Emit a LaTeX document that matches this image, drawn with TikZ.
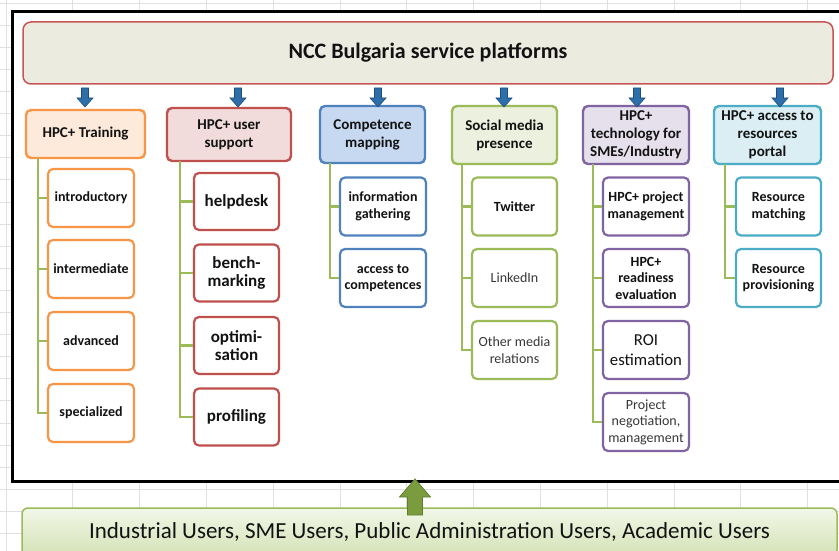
\documentclass[tikz,border=0pt]{standalone}
\usepackage{fontspec}
\setmainfont{Carlito}
\usetikzlibrary{calc}

\definecolor{gridc}{RGB}{224,224,224}
\definecolor{ink}{RGB}{18,18,18}
\definecolor{inkl}{RGB}{55,55,55}
\definecolor{titlefill}{RGB}{236,235,224}
\definecolor{titledraw}{RGB}{200,85,85}
\definecolor{orgd}{RGB}{247,150,70}  \definecolor{orgf}{RGB}{253,234,218}
\definecolor{redd}{RGB}{192,80,77}   \definecolor{redf}{RGB}{242,220,219}
\definecolor{blud}{RGB}{79,129,189}  \definecolor{bluf}{RGB}{198,217,241}
\definecolor{grnd}{RGB}{155,187,89}  \definecolor{grnf}{RGB}{235,241,222}
\definecolor{purd}{RGB}{128,100,162} \definecolor{purf}{RGB}{229,224,236}
\definecolor{tead}{RGB}{75,172,198}  \definecolor{teaf}{RGB}{219,238,243}
\definecolor{arrb}{RGB}{46,110,170}  \definecolor{arrbd}{RGB}{31,78,121}
\definecolor{arrg}{RGB}{122,155,62}  \definecolor{arrgd}{RGB}{95,125,45}
\definecolor{botf}{RGB}{242,247,232} \definecolor{botb}{RGB}{212,226,182}

\tikzset{
  headbox/.style={rounded corners=5pt, line width=2.4pt, align=center, inner sep=0pt,
    text=ink, font=\bfseries\fontsize{15}{18}\selectfont},
  subbox/.style={rounded corners=5pt, line width=2.2pt, fill=white, align=center,
    inner sep=0pt, text=ink, minimum width=86pt, minimum height=58pt,
    font=\bfseries\fontsize{14}{16.5}\selectfont},
  supportbox/.style={subbox, draw=redd, minimum width=85pt, minimum height=57pt,
    font=\bfseries\fontsize{17}{18.5}\selectfont},
  lightbox/.style={font=\fontsize{14}{16.5}\selectfont, text=inkl},
  conn/.style={draw=grnd, line width=2.2pt},
  downarrow/.pic={\draw[fill=arrb, draw=arrbd, line width=0.6pt]
    (-3.5,0) -- (3.5,0) -- (3.5,10) -- (8,10) -- (0,19) -- (-8,10) -- (-3.5,10) -- cycle;},
  uparrow/.pic={\draw[fill=arrg, draw=arrgd, line width=0.8pt]
    (0,0) -- (15.5,18) -- (7.5,18) -- (7.5,36) -- (-7.5,36) -- (-7.5,18) -- (-15.5,18) -- cycle;}
}

\begin{document}
\begin{tikzpicture}[x=1pt,y=-1pt]
\useasboundingbox (0,0) rectangle (839,551);

% worksheet grid behind everything
\foreach \i in {0,...,12}
  \draw[gridc, line width=0.8pt] ({6+66.8*\i},0) -- ({6+66.8*\i},551);
\foreach \j in {0,...,24}
  \draw[gridc, line width=0.8pt] (0,{3+22.1*\j}) -- (839,{3+22.1*\j});

% black panel holding the service platforms
\draw[line width=3pt, fill=white] (12,12) rectangle (860,481);

% title bar
\node[rounded corners=8pt, draw=titledraw, line width=1.5pt, fill=titlefill,
      minimum width=810pt, minimum height=62pt, text=ink,
      font=\bfseries\fontsize{22}{26}\selectfont] (title) at (428,53)
      {NCC Bulgaria service platforms};

% platform headers
\node[headbox, draw=orgd, fill=orgf, minimum width=119pt, minimum height=48pt] (T1) at (85.5,134) {HPC+ Training};
\node[headbox, draw=redd, fill=redf, minimum width=124pt, minimum height=53pt] (T2) at (229,134.5) {HPC+ user\\support};
\node[headbox, draw=blud, fill=bluf, minimum width=105pt, minimum height=57pt] (T3) at (372.5,134.5) {Competence\\mapping};
\node[headbox, draw=grnd, fill=grnf, minimum width=105pt, minimum height=58pt] (T4) at (504.5,135) {Social media\\presence};
\node[headbox, draw=purd, fill=purf, minimum width=106pt, minimum height=58pt] (T5) at (636,135) {HPC+\\technology for\\SMEs/Industry};
\node[headbox, draw=tead, fill=teaf, minimum width=107pt, minimum height=58pt] (T6) at (767.5,135) {HPC+ access to\\resources\\portal};

% arrows from the title bar to each header
\coordinate (a1) at (85,88);
\coordinate (a2) at (238,88);
\coordinate (a3) at (378,88);
\coordinate (a4) at (504,88);
\coordinate (a5) at (637,88);
\coordinate (a6) at (780,88);
\foreach \a in {a1,a2,a3,a4,a5,a6} \pic at (\a) {downarrow};

% training levels
\node[subbox, draw=orgd] (c11) at (91,198) {introductory};
\node[subbox, draw=orgd] (c12) at (91,269) {intermediate};
\node[subbox, draw=orgd] (c13) at (91,341) {advanced};
\node[subbox, draw=orgd] (c14) at (91,413) {specialized};

% user support services
\node[supportbox] (c21) at (236.5,201.5) {helpdesk};
\node[supportbox] (c22) at (236.5,273) {bench-\\marking};
\node[supportbox] (c23) at (236.5,345.5) {optimi-\\sation};
\node[supportbox] (c24) at (236.5,417) {profiling};

% competence mapping
\node[subbox, draw=blud] (c31) at (383,206.5) {information\\gathering};
\node[subbox, draw=blud] (c32) at (383,278) {access to\\competences};

% social media
\node[subbox, draw=grnd, minimum width=85pt] (c41) at (514.5,206.5) {Twitter};
\node[subbox, draw=grnd, minimum width=85pt, lightbox] (c42) at (514.5,278) {LinkedIn};
\node[subbox, draw=grnd, minimum width=85pt, lightbox] (c43) at (514.5,350) {Other media\\relations};

% SME / industry services
\node[subbox, draw=purd] (c51) at (646,206.5) {HPC+ project\\management};
\node[subbox, draw=purd] (c52) at (646,278) {HPC+\\readiness\\evaluation};
\node[subbox, draw=purd, font=\fontsize{16.7}{20}\selectfont] (c53) at (646,350) {ROI\\estimation};
\node[subbox, draw=purd, lightbox] (c54) at (646,422) {Project\\negotiation,\\management};

% resource portal
\node[subbox, draw=tead, minimum width=85pt] (c61) at (778.5,206.5) {Resource\\matching};
\node[subbox, draw=tead, minimum width=85pt] (c62) at (778.5,278) {Resource\\provisioning};

% tree connectors
\coordinate (r1) at (38,158);
\coordinate (r2) at (180,161);
\coordinate (r3) at (330,163);
\coordinate (r4) at (462,164);
\coordinate (r5) at (593,164);
\coordinate (r6) at (725,164);
\foreach \c in {c11,c12,c13,c14} \draw[conn] (r1) |- (\c.west);
\foreach \c in {c21,c22,c23,c24} \draw[conn] (r2) |- (\c.west);
\foreach \c in {c31,c32} \draw[conn] (r3) |- (\c.west);
\foreach \c in {c41,c42,c43} \draw[conn] (r4) |- (\c.west);
\foreach \c in {c51,c52,c53,c54} \draw[conn] (r5) |- (\c.west);
\foreach \c in {c61,c62} \draw[conn] (r6) |- (\c.west);

% user groups bar
\node[rounded corners=6pt, draw=grnd, line width=1.5pt, top color=botf, bottom color=botb,
      minimum width=815pt, minimum height=48pt, text=ink,
      font=\fontsize{23}{27}\selectfont] (users) at (429.5,532)
      {Industrial Users, SME Users, Public Administration Users, Academic Users};
\coordinate (up) at (415,479);
\pic at (up) {uparrow};
\end{tikzpicture}
\end{document}
